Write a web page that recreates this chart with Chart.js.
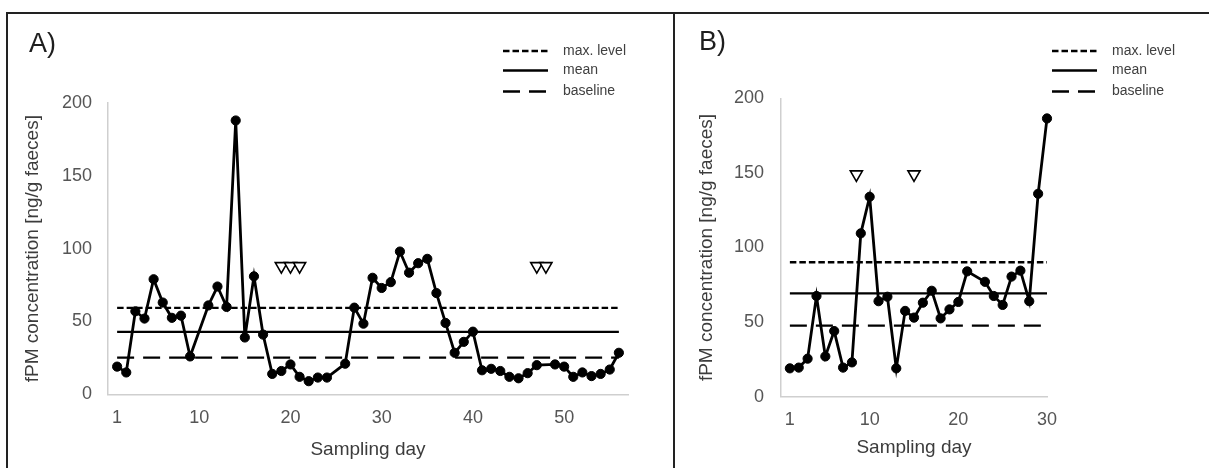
<!DOCTYPE html>
<html>
<head>
<meta charset="utf-8">
<script src="https://cdn.jsdelivr.net/npm/chart.js@4.4.0/dist/chart.umd.min.js"></script>
<style>
  html, body { margin: 0; padding: 0; background: #fff; }
  body { width: 1209px; height: 468px; overflow: hidden; position: relative; }
  #panelA { position: absolute; left: 6px; top: 12px; width: 665px; height: 470px; border: 2px solid #222; border-bottom: none; }
  #panelB { position: absolute; left: 675px; top: 12px; width: 540px; height: 470px; border-top: 2px solid #222; }
  canvas { position: absolute; left: 0; top: 0; }
</style>
</head>
<body>
<div id="panelA"><canvas id="chartA" width="665" height="454"></canvas></div>
<div id="panelB"><canvas id="chartB" width="534" height="454"></canvas></div>
<script>
// panel A: sampling days with a sample, fPM values
const daysA = [1, 2, 3, 4, 5, 6, 7, 8, 9, 11, 12, 13, 14, 15, 16, 17, 18, 19, 20, 21, 22, 23, 24,
    26, 27, 28, 29, 30, 31, 32, 33, 34, 35, 36, 37, 38, 39, 40, 41, 42, 43, 44, 45, 46, 47,
    49, 50, 51, 52, 53, 54, 55, 56];
const fpmA = [19, 15, 57, 52, 79, 63, 52.5, 54, 26, 61, 74, 60, 188, 39, 81, 41, 14, 16, 20.5, 12, 9, 11.5, 11.5,
    21, 59.5, 48.5, 80, 73, 77, 98, 83.5, 90, 93, 69.5, 49, 28.5, 36, 43, 16.5, 17.5, 16, 12, 11, 14.5, 20,
    20.5, 19, 12, 15, 12.5, 14, 17, 28.5];
const levelsA = { max: 59.3, mean: 42.8, baseline: 25.2 };
const marksA = [19, 20, 21, 47, 48];
const markYA = 88;
const ticksA = [1, 10, 20, 30, 40, 50];

// panel B
const daysB = [1, 2, 3, 4, 5, 6, 7, 8, 9, 10, 11, 12, 13, 14, 15, 16, 17, 18, 19, 20, 21,
    23, 24, 25, 26, 27, 28, 29, 30];
const fpmB = [19, 19.5, 25.5, 67.5, 27, 44, 19.5, 23, 109.5, 134, 64, 67, 19, 57.5, 53, 63, 71, 52.5, 58.5, 63.5, 84,
    77, 67.5, 61.5, 80.5, 84.5, 64, 136, 186.5];
const levelsB = { max: 90.1, mean: 69.3, baseline: 47.6 };
const marksB = [8.5, 15];
const markYB = 149;
const ticksB = [1, 10, 20, 30];

const yTicks = { min: 0, max: 200, step: 50 };

Chart.defaults.font.family = '"Liberation Sans", Arial, sans-serif';

// small key drawn top right: line sample + label for each level dataset
const lineKey = {
    id: 'lineKey',
    afterDraw(chart, args, opts) {
        const ctx = chart.ctx;
        const rows = chart.data.datasets.filter(d => d.key);
        ctx.save();
        ctx.font = '14px "Liberation Sans", Arial, sans-serif';
        ctx.fillStyle = '#404040';
        ctx.textBaseline = 'middle';
        rows.forEach((d, i) => {
            const y = opts.y[i];
            ctx.beginPath();
            ctx.setLineDash(d.borderDash || []);
            ctx.lineWidth = 2.6;
            ctx.strokeStyle = d.borderColor;
            ctx.moveTo(opts.x, y);
            ctx.lineTo(opts.x + 45, y);
            ctx.stroke();
            ctx.setLineDash([]);
            ctx.fillText(d.label, opts.x + 60, y);
        });
        ctx.restore();
    }
};

function levelLine(label, days, value, dash) {
    return {
        label: label,
        key: true,
        data: [{ x: days[0], y: value }, { x: days[days.length - 1], y: value }],
        borderColor: '#000',
        borderWidth: 2.3,
        borderDash: dash,
        pointRadius: 0,
        tension: 0
    };
}

function panelChart(id, p) {
    return new Chart(document.getElementById(id), {
        type: 'line',
        data: {
            datasets: [{
                label: 'fPM',
                data: p.days.map((d, i) => ({ x: d, y: p.fpm[i] })),
                borderColor: '#000',
                backgroundColor: '#000',
                borderWidth: 2.8,
                pointRadius: 4.6,
                pointBorderWidth: 1,
                tension: 0,
                clip: false
            },
            levelLine('max. level', p.days, p.levels.max, [6.5, 3]),
            levelLine('mean', p.days, p.levels.mean, []),
            levelLine('baseline', p.days, p.levels.baseline, [17, 9]),
            {
                label: 'marks',
                data: p.marks.map(d => ({ x: d, y: p.markY })),
                showLine: false,
                pointStyle: 'triangle',
                rotation: 180,
                pointRadius: 7,
                pointBackgroundColor: '#fff',
                pointBorderColor: '#000',
                pointBorderWidth: 1.6
            }]
        },
        options: {
            responsive: false,
            animation: false,
            layout: { padding: { left: p.padLeft, right: p.padRight, top: p.padTop, bottom: 0 } },
            plugins: {
                legend: { display: false },
                tooltip: { enabled: false },
                title: {
                    display: true,
                    text: p.name,
                    align: 'start',
                    color: '#1e1e1e',
                    font: { size: 27, weight: 'normal' },
                    padding: { top: 0, bottom: p.titleGap }
                },
                lineKey: { x: p.keyX, y: [37, 56.5, 77.5] }
            },
            scales: {
                x: {
                    type: 'linear',
                    min: 0,
                    max: p.xMax,
                    grid: { display: false, drawTicks: false },
                    border: { color: '#cfcfcf', width: 1.5 },
                    afterBuildTicks: s => { s.ticks = p.xTicks.map(v => ({ value: v })); },
                    afterFit: s => { s.height = p.xHeight; },
                    ticks: { autoSkip: false, maxRotation: 0, padding: p.xTickPad, color: '#555', font: { size: 18 } },
                    title: {
                        display: true,
                        text: 'Sampling day',
                        color: '#3c3c3c',
                        font: { size: 19 },
                        padding: { top: 0, bottom: p.xTitlePad }
                    }
                },
                y: {
                    min: yTicks.min,
                    max: yTicks.max,
                    grid: { display: false, drawTicks: false },
                    border: { color: '#cfcfcf', width: 1.5 },
                    afterFit: s => { s.width = p.yWidth; },
                    ticks: { stepSize: yTicks.step, padding: p.yTickPad, color: '#555', font: { size: 18 } },
                    title: {
                        display: true,
                        text: 'fPM concentration [ng/g faeces]',
                        color: '#3c3c3c',
                        font: { size: 19, lineHeight: p.yTitleLH },
                        padding: 0
                    }
                }
            }
        },
        plugins: [lineKey]
    });
}

panelChart('chartA', {
    name: 'A)', days: daysA, fpm: fpmA, levels: levelsA, marks: marksA, markY: markYA,
    xTicks: ticksA, xMax: 57,
    padLeft: 21, padRight: 45, padTop: 14.8, titleGap: 41.8,
    yWidth: 79, yTickPad: 16, yTitleLH: 0.42,
    xHeight: 73.7, xTickPad: 13, xTitlePad: 6.6,
    keyX: 495
});

panelChart('chartB', {
    name: 'B)', days: daysB, fpm: fpmB, levels: levelsB, marks: marksB, markY: markYB,
    xTicks: ticksB, xMax: 30,
    padLeft: 24, padRight: 162, padTop: 12.8, titleGap: 39.1,
    yWidth: 82, yTickPad: 17, yTitleLH: 0.84,
    xHeight: 71.3, xTickPad: 12.5, xTitlePad: 8.6,
    keyX: 377
});
</script>
</body>
</html>
